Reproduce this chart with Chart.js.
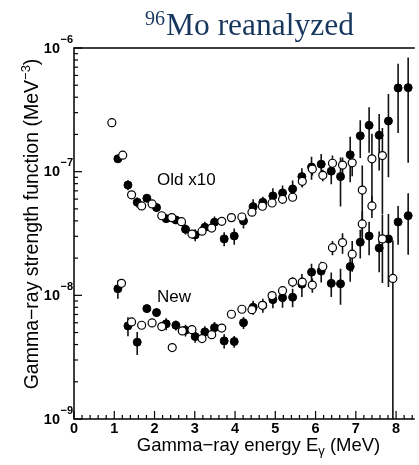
<!DOCTYPE html>
<html><head><meta charset="utf-8">
<script src="https://cdn.jsdelivr.net/npm/chart.js@4"></script>
<style>html,body{margin:0;padding:0;background:#fff;}#wrap{width:419px;height:465px;position:relative;}</style>
</head><body><div id="wrap"><canvas id="c" width="419" height="465"></canvas></div>
<script>
// ---- data ----
const oldFilledE = [1.09,1.34,1.57,1.81,2.05,2.29,2.53,2.77,3.01,3.25,3.49,3.73,3.98,4.21,4.45,4.69,4.94,5.18,5.43,5.66,5.90,6.14,6.39,6.62,6.86,7.11,7.33,7.58,7.81,8.05,8.30];
const oldFilledV = [1.27e-7,7.8e-8,5.66e-8,6.1e-8,5.12e-8,4.17e-8,4.07e-8,3.42e-8,3.08e-8,3.55e-8,3.9e-8,2.86e-8,3.02e-8,3.99e-8,5.21e-8,5.66e-8,6.37e-8,6.73e-8,7.25e-8,9.12e-8,1.09e-7,1.15e-7,1.01e-7,9.12e-8,1.37e-7,1.95e-7,2.37e-7,1.97e-7,2.57e-7,4.75e-7,4.78e-7];
const oldFilledErr = [0.07e-7,0.73e-8,0.53e-8,0.45e-8,0.38e-8,0.31e-8,0.30e-8,0.32e-8,0.34e-8,0.39e-8,0.43e-8,0.37e-8,0.45e-8,0.52e-8,0.78e-8,0.62e-8,0.96e-8,1.0e-8,1.23e-8,1.55e-8,0.23e-7,0.24e-7,0.22e-7,3.9e-8,0.55e-7,0.66e-7,0.95e-7,0.95e-7,1.67e-7,2.7e-7,3.6e-7];

const oldOpenE = [0.94,1.21,1.43,1.68,1.94,2.18,2.43,2.67,2.93,3.18,3.42,3.67,3.91,4.17,4.42,4.68,4.92,5.18,5.43,5.67,5.92,6.18,6.42,6.67,6.91,7.16,7.40,7.66];
const oldOpenV = [2.49e-7,1.36e-7,6.5e-8,5.28e-8,5.48e-8,4.4e-8,4.25e-8,3.94e-8,3.13e-8,3.3e-8,3.5e-8,3.97e-8,4.25e-8,4.3e-8,4.7e-8,5.25e-8,5.58e-8,5.98e-8,6.21e-8,8.36e-8,1.05e-7,9.35e-8,1.17e-7,1.13e-7,1.18e-7,7.1e-8,1.27e-7,1.35e-7];
const oldOpenErr = [0,0,0,0,0,0,0,0,0,0,0,0,0,0,0,0,0,0,0,0.9e-8,1.2e-8,1.0e-8,1.8e-8,1.7e-8,2.6e-8,4.1e-8,7.6e-8,0.9e-7];

const newFilledE = [1.09,1.34,1.57,1.81,2.05,2.29,2.53,2.77,3.01,3.25,3.49,3.73,3.98,4.21,4.45,4.69,4.94,5.18,5.43,5.66,5.90,6.14,6.39,6.62,6.86,7.11,7.33,7.58,7.81,8.05,8.30];
const newFilledV = [1.13e-8,5.66e-9,4.18e-9,7.81e-9,7.25e-9,5.88e-9,5.73e-9,5.22e-9,4.64e-9,5.06e-9,5.48e-9,4.28e-9,4.23e-9,6.01e-9,8.0e-9,8.3e-9,9.23e-9,9.58e-9,9.65e-9,1.23e-8,1.54e-8,1.57e-8,1.25e-8,1.24e-8,1.71e-8,2.69e-8,3.02e-8,2.41e-8,2.86e-8,3.92e-8,4.41e-8];
const newFilledErr = [0.19e-8,1.0e-9,0.88e-9,0.58e-9,0.54e-9,0.65e-9,0.53e-9,0.57e-9,0.51e-9,0.56e-9,0.60e-9,0.56e-9,0.47e-9,0.66e-9,1.04e-9,1.08e-9,1.38e-9,1.63e-9,1.64e-9,0.26e-8,0.26e-8,0.30e-8,0.28e-8,0.40e-8,0.42e-8,0.70e-8,0.91e-8,0.87e-8,1.69e-8,1.36e-8,2.28e-8];

const newOpenE = [1.18,1.43,1.68,1.94,2.18,2.44,2.69,2.93,3.18,3.42,3.67,3.91,4.17,4.42,4.68,4.92,5.18,5.43,5.67,5.92,6.18,6.42,6.67,6.91,7.16,7.40,7.66,7.92];
const newOpenV = [1.25e-8,6.1e-9,5.73e-9,5.98e-9,5.59e-9,3.78e-9,5.15e-9,5.28e-9,4.47e-9,4.81e-9,5.44e-9,7.03e-9,7.72e-9,7.66e-9,8.3e-9,9.95e-9,1.09e-8,1.28e-8,1.28e-8,1.21e-8,1.71e-8,2.43e-8,2.67e-8,2.15e-8,3.78e-8,5.28e-8,2.86e-8,1.37e-8];
const newOpenErr = [0,0,0,0,0,0,0,0,0,0,0,0,0,0,0,0,0,0.12e-8,0.12e-8,0.16e-8,0.15e-8,0.32e-8,0.5e-8,0.6e-8,1.0e-8,1.06e-8,1.6e-8,1.4e-8];

const xTickLabels = ['0','1','2','3','4','5','6','7','8'];
const yDecades = [-9,-8,-7,-6];
const titleSup = '96';
const titleMain = 'Mo reanalyzed';
const xTitle = ['Gamma\u2212ray energy E', '\u03b3', ' (MeV)'];
const yTitle = ['Gamma\u2212ray strength function (MeV', '\u22123', ')'];
const seriesLabels = ['Old x10', 'New'];

// ---- build datasets ----
function pts(E, V) { return E.map((e, i) => ({x: e, y: V[i]})); }
const SANS = '"Liberation Sans", Arial, Helvetica, sans-serif';
const SERIF = '"Liberation Serif", "Times New Roman", Times, serif';

function openDs(label, E, V, err) {
  return {label, data: pts(E, V), errors: err, pointRadius: 4, pointHoverRadius: 4,
    pointBackgroundColor: '#fff', pointBorderColor: '#000', pointBorderWidth: 1.2, showLine: false};
}
function filledDs(label, E, V, err) {
  return {label, data: pts(E, V), errors: err, pointRadius: 4, pointHoverRadius: 4,
    pointBackgroundColor: '#000', pointBorderColor: '#000', pointBorderWidth: 1, showLine: false};
}

const errPlugin = {
  id: 'errbars',
  beforeDatasetsDraw(chart) {
    const {ctx, chartArea: a, scales: {x, y}} = chart;
    ctx.save();
    ctx.beginPath(); ctx.rect(a.left, a.top, a.right - a.left, a.bottom - a.top); ctx.clip();
    ctx.strokeStyle = '#111'; ctx.lineWidth = 1.6;
    chart.data.datasets.forEach(ds => {
      ds.data.forEach((p, i) => {
        const e = ds.errors[i]; if (!e) return;
        const px = x.getPixelForValue(p.x);
        const hi = y.getPixelForValue(p.y + e);
        const lo = (p.y - e) > 0 ? Math.min(y.getPixelForValue(p.y - e), a.bottom) : a.bottom;
        ctx.beginPath(); ctx.moveTo(px, hi); ctx.lineTo(px, lo); ctx.stroke();
      });
    });
    ctx.restore();
  }
};

function drawParts(ctx, parts, fonts, offs, startX) {
  let sx = startX;
  parts.forEach((t, i) => { ctx.font = fonts[i]; ctx.fillText(t, sx, offs[i]); sx += ctx.measureText(t).width; });
}
function partsWidth(ctx, parts, fonts) {
  let w = 0; parts.forEach((t, i) => { ctx.font = fonts[i]; w += ctx.measureText(t).width; }); return w;
}

const axesPlugin = {
  id: 'axesdraw',
  afterDraw(chart) {
    const {ctx, chartArea: a, scales: {x, y}} = chart;
    ctx.save();
    ctx.strokeStyle = '#000'; ctx.fillStyle = '#000';
    // frame
    ctx.lineWidth = 1.5;
    ctx.beginPath();
    ctx.moveTo(a.right + 1, a.top); ctx.lineTo(a.left, a.top); ctx.lineTo(a.left, a.bottom); ctx.lineTo(a.right + 1, a.bottom);
    ctx.stroke();
    // x ticks (inward)
    ctx.lineWidth = 1.2;
    for (let k = 0; k <= 45; k++) {
      const v = k * 0.2; if (v > x.max + 1e-9) break;
      const px = x.getPixelForValue(v);
      const len = (k % 5 === 0) ? 8 : 4;
      ctx.beginPath(); ctx.moveTo(px, a.bottom); ctx.lineTo(px, a.bottom - len); ctx.stroke();
    }
    // y ticks (inward)
    yDecades.forEach(d => {
      for (let m = 1; m <= 9; m++) {
        const v = m * Math.pow(10, d);
        if (v > y.max * 1.0001) break;
        const py = y.getPixelForValue(v);
        const len = m === 1 ? 8 : 4;
        ctx.beginPath(); ctx.moveTo(a.left, py); ctx.lineTo(a.left + len, py); ctx.stroke();
      }
    });
    // x tick labels
    ctx.font = 'bold 14.5px ' + SANS;
    ctx.textAlign = 'center'; ctx.textBaseline = 'alphabetic';
    xTickLabels.forEach((t, i) => {
      ctx.fillText(t, x.getPixelForValue(i), 433);
    });
    // y tick labels 10^d
    yDecades.forEach(d => {
      const py = y.getPixelForValue(Math.pow(10, d));
      ctx.font = 'bold 14.5px ' + SANS; ctx.textAlign = 'right';
      ctx.fillText('10', 60, py + 4.5);
      ctx.font = 'bold 11px ' + SANS; ctx.textAlign = 'left';
      ctx.fillText('\u2212' + Math.abs(d), 60.5, py - 5.5);
    });
    ctx.textAlign = 'left';
    // x title
    const fx = ['18.5px ' + SANS, '13px ' + SANS, '18.5px ' + SANS];
    const wx = partsWidth(ctx, xTitle, fx);
    drawParts(ctx, xTitle, fx, [451, 455, 451], 258.5 - wx / 2);
    // y title (rotated)
    ctx.save();
    ctx.translate(38, 224); ctx.rotate(-Math.PI / 2);
    const fy = ['19.5px ' + SANS, '13px ' + SANS, '19.5px ' + SANS];
    const wy = partsWidth(ctx, yTitle, fy);
    drawParts(ctx, yTitle, fy, [0, -8, 0], -wy / 2);
    ctx.restore();
    // series labels
    ctx.font = '17px ' + SANS;
    ctx.fillText(seriesLabels[0], 157, 185);
    ctx.fillText(seriesLabels[1], 157, 302);
    // title
    ctx.fillStyle = '#17375e';
    ctx.font = '20px ' + SERIF; ctx.fillText(titleSup, 145, 25);
    ctx.font = '31.5px ' + SERIF; ctx.fillText(titleMain, 166, 35);
    ctx.restore();
  }
};

new Chart(document.getElementById('c'), {
  type: 'scatter',
  data: {datasets: [
    openDs('Old x10 (open)', oldOpenE, oldOpenV, oldOpenErr),
    openDs('New (open)', newOpenE, newOpenV, newOpenErr),
    filledDs('Old x10 (filled)', oldFilledE, oldFilledV, oldFilledErr),
    filledDs('New (filled)', newFilledE, newFilledV, newFilledErr)
  ]},
  options: {
    responsive: false, devicePixelRatio: 1, animation: false,
    layout: {padding: {left: 74, right: 0, top: 48, bottom: 46}},
    plugins: {legend: {display: false}, tooltip: {enabled: false}, title: {display: false}},
    scales: {
      x: {type: 'linear', min: 0, max: 8.44, display: false},
      y: {type: 'logarithmic', min: 1e-9, max: 1e-6, display: false}
    }
  },
  plugins: [errPlugin, axesPlugin]
});
</script></body></html>
